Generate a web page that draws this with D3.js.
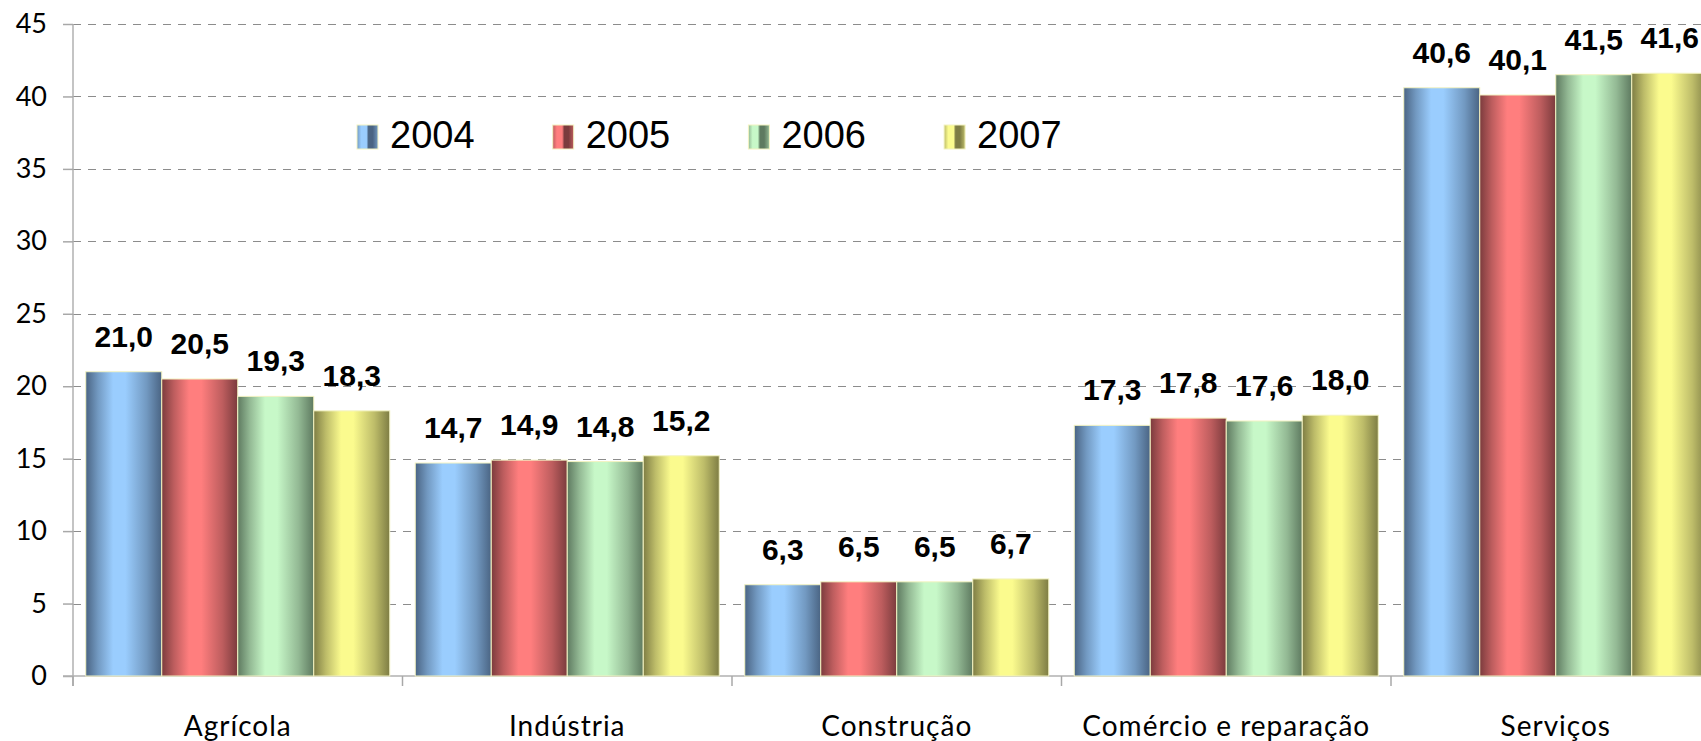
<!DOCTYPE html>
<html>
<head>
<meta charset="utf-8">
<script src="https://cdn.jsdelivr.net/npm/d3@7"></script>
<style>
  body { margin: 0; background: #fff; }
  svg { display: block; }
</style>
</head>
<body>
<div id="chart"></div>
<script>
// Data
var categories = ["Agrícola", "Indústria", "Construção", "Comércio e reparação", "Serviços"];
var years = ["2004", "2005", "2006", "2007"];
var values2004 = [21.0, 14.7, 6.3, 17.3, 40.6];
var values2005 = [20.5, 14.9, 6.5, 17.8, 40.1];
var values2006 = [19.3, 14.8, 6.5, 17.6, 41.5];
var values2007 = [18.3, 15.2, 6.7, 18.0, 41.6];
var yTicks = [0, 5, 10, 15, 20, 25, 30, 35, 40, 45];

var seriesValues = [values2004, values2005, values2006, values2007];

// bar colours: dark edge / light centre
var barColors = [
    { dark: "#4a6483", light: "#9acdfe" },
    { dark: "#7b3b3d", light: "#ff7e7e" },
    { dark: "#5e7a60", light: "#c7f8c8" },
    { dark: "#7e7d44", light: "#fbfb8e" }
];

function drawChart() {
    var width = 1701,
        height = 741,
        plotLeft = 73,
        plotTop = 24,
        plotBottom = 676,
        step = 329.5;

    var svg = d3.select("#chart").append("svg")
        .attr("width", width)
        .attr("height", height);

    var defs = svg.append("defs");
    barColors.forEach(function(c, i) {
        var g = defs.append("linearGradient")
            .attr("id", "grad" + i)
            .attr("x1", "0%").attr("x2", "100%")
            .attr("y1", "0%").attr("y2", "0%");
        var mid = d3.interpolateRgb(c.dark, c.light)(0.5);
        g.append("stop").attr("offset", "0%").attr("stop-color", c.dark);
        g.append("stop").attr("offset", "16%").attr("stop-color", mid);
        g.append("stop").attr("offset", "36%").attr("stop-color", c.light);
        g.append("stop").attr("offset", "52%").attr("stop-color", c.light);
        g.append("stop").attr("offset", "80%").attr("stop-color", mid);
        g.append("stop").attr("offset", "100%").attr("stop-color", c.dark);

        // legend swatch gradient
        var lg = defs.append("linearGradient")
            .attr("id", "lgrad" + i)
            .attr("x1", "0%").attr("x2", "100%")
            .attr("y1", "0%").attr("y2", "0%");
        lg.append("stop").attr("offset", "0%").attr("stop-color", mid);
        lg.append("stop").attr("offset", "20%").attr("stop-color", c.light);
        lg.append("stop").attr("offset", "45%").attr("stop-color", c.light);
        lg.append("stop").attr("offset", "55%").attr("stop-color", c.dark);
        lg.append("stop").attr("offset", "75%").attr("stop-color", c.dark);
        lg.append("stop").attr("offset", "100%").attr("stop-color", mid);
    });

    // Scales
    var pad = 25.5 / step;
    var x0 = d3.scaleBand()
        .domain(categories)
        .range([plotLeft, plotLeft + step * categories.length])
        .paddingInner(pad)
        .paddingOuter(pad / 2);

    var x1 = d3.scaleBand()
        .domain(years)
        .range([0, x0.bandwidth()]);

    var y = d3.scaleLinear()
        .domain([0, 45])
        .range([plotBottom, plotTop]);

    var fmt = function(v) { return d3.format(".1f")(v).replace(".", ","); };

    // Grid lines
    var grid = svg.append("g")
        .attr("transform", "translate(" + plotLeft + ",0)")
        .call(d3.axisRight(y).tickValues(yTicks).tickSize(width - plotLeft).tickFormat(""));
    grid.select(".domain").remove();
    grid.selectAll(".tick line")
        .attr("stroke", "#8c8c8c")
        .attr("stroke-width", 1)
        .attr("stroke-dasharray", "8,7")
        .attr("shape-rendering", "crispEdges");
    grid.selectAll(".tick").filter(function(d) { return d === 0; }).remove();

    // Y axis
    var yAxis = svg.append("g")
        .attr("transform", "translate(" + plotLeft + ",0)")
        .call(d3.axisLeft(y).tickValues(yTicks).tickSize(10).tickPadding(16));
    yAxis.select(".domain")
        .attr("d", "M0," + plotTop + "V" + (plotBottom + 10))
        .attr("stroke", "#b0b0b0")
        .attr("stroke-width", 1.5);
    yAxis.selectAll(".tick line").attr("stroke", "#a8a8a8").attr("stroke-width", 1.5);
    yAxis.selectAll(".tick text")
        .attr("font-family", "Lato, 'Open Sans', sans-serif")
        .attr("font-size", 27)
        .attr("fill", "#000");

    // X axis line and boundary ticks
    svg.append("line")
        .attr("x1", plotLeft - 10).attr("x2", width)
        .attr("y1", plotBottom).attr("y2", plotBottom)
        .attr("stroke", "#b0b0b0")
        .attr("stroke-width", 1.5);

    var bounds = categories.map(function(c) { return x0(c) - x0.step() * pad / 2; });
    bounds.push(plotLeft + step * categories.length);
    svg.append("g").selectAll("line")
        .data(bounds)
        .enter().append("line")
        .attr("x1", function(d) { return d; })
        .attr("x2", function(d) { return d; })
        .attr("y1", plotBottom)
        .attr("y2", plotBottom + 10)
        .attr("stroke", "#a8a8a8")
        .attr("stroke-width", 1.5);

    // Category labels
    var xAxis = svg.append("g")
        .attr("transform", "translate(0," + plotBottom + ")")
        .call(d3.axisBottom(x0).tickSize(0));
    xAxis.select(".domain").remove();
    xAxis.selectAll(".tick text")
        .attr("y", 60)
        .attr("dy", 0)
        .attr("font-family", "Lato, 'Open Sans', sans-serif")
        .attr("font-size", 28)
        .attr("letter-spacing", 1)
        .attr("fill", "#000");

    // Bars
    var groups = svg.append("g").selectAll("g")
        .data(categories)
        .enter().append("g")
        .attr("transform", function(d) { return "translate(" + x0(d) + ",0)"; });

    groups.selectAll("rect")
        .data(function(d, ci) {
            return years.map(function(yr, si) {
                return { year: yr, si: si, value: seriesValues[si][ci] };
            });
        })
        .enter().append("rect")
        .attr("x", function(d) { return x1(d.year); })
        .attr("y", function(d) { return y(d.value); })
        .attr("width", x1.bandwidth())
        .attr("height", function(d) { return plotBottom - y(d.value); })
        .attr("fill", function(d) { return "url(#grad" + d.si + ")"; })
        .attr("stroke", "#f3f3c2")
        .attr("stroke-width", 1);

    groups.selectAll("text")
        .data(function(d, ci) {
            return years.map(function(yr, si) {
                return { year: yr, value: seriesValues[si][ci] };
            });
        })
        .enter().append("text")
        .attr("x", function(d) { return x1(d.year) + x1.bandwidth() / 2; })
        .attr("y", function(d) { return y(d.value) - 25; })
        .attr("text-anchor", "middle")
        .attr("font-family", "'Liberation Sans', Arial, sans-serif")
        .attr("font-weight", "bold")
        .attr("font-size", 30)
        .attr("fill", "#000")
        .text(function(d) { return fmt(d.value); });

    // Legend
    var legend = svg.append("g").selectAll("g")
        .data(years)
        .enter().append("g")
        .attr("transform", function(d, i) { return "translate(" + (357 + i * 195.7) + ",125)"; });

    legend.append("rect")
        .attr("width", 21)
        .attr("height", 24)
        .attr("fill", function(d, i) { return "url(#lgrad" + i + ")"; })
        .attr("stroke", "#f3f3c2")
        .attr("stroke-width", 1);

    legend.append("text")
        .attr("x", 33)
        .attr("y", 23)
        .attr("font-family", "'Liberation Sans', Arial, sans-serif")
        .attr("font-size", 38)
        .attr("fill", "#000")
        .text(function(d) { return d; });
}

drawChart();
</script>
</body>
</html>
